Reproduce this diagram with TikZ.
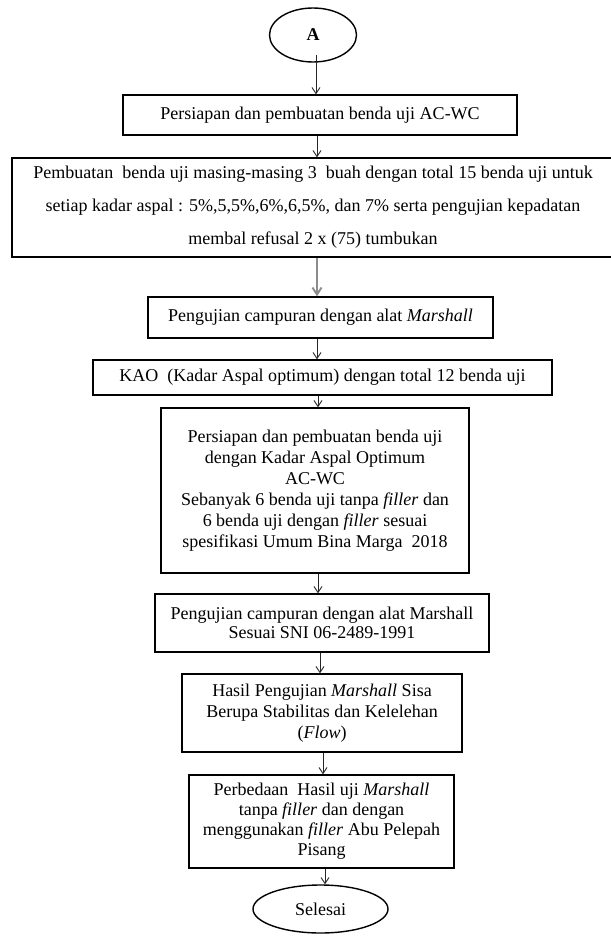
\documentclass[tikz,border=0pt]{standalone}
\usepackage{fontspec}
\setmainfont{Liberation Serif}
\usetikzlibrary{shapes.geometric,arrows.meta}
\begin{document}
\begin{tikzpicture}[x=1pt,y=-1pt,
  every node/.style={font=\fontsize{18}{21}\selectfont},
  procbox/.style={draw=black,line width=1.4pt,rectangle,inner sep=0pt,align=center,anchor=center},
  term/.style={draw=black,line width=1.4pt,ellipse,inner sep=0pt,anchor=center},
  flow/.style={draw=black!85,line width=0.9pt,-{Straight Barb[length=6pt,width=8pt]}},
  flowgray/.style={draw=black!45,line width=1.9pt,-{Straight Barb[length=7pt,width=9pt]}}]
\useasboundingbox (0,0) rectangle (610,936);
\fill[white] (0,0) rectangle (610,936);

\node[term,minimum width=87pt,minimum height=54pt] (a) at (313,35) {\textbf{A}};
\node[procbox,minimum width=394pt,minimum height=40pt] (b1) at (320,115) {Persiapan dan pembuatan benda uji AC-WC};
\node[procbox,minimum width=602pt,minimum height=99pt,font=\fontsize{18}{33}\selectfont] (b2) at (313,207.5)
  {Pembuatan\ \ benda uji masing-masing 3\ \ buah dengan total 15 benda uji untuk\\
   setiap kadar aspal : 5\%,5,5\%,6\%,6,5\%, dan 7\% serta pengujian kepadatan\\
   membal refusal 2 x (75) tumbukan};
\node[procbox,minimum width=345pt,minimum height=41pt] (b3) at (320.5,317.5) {Pengujian campuran dengan alat \textit{Marshall}};
\node[procbox,minimum width=459pt,minimum height=35pt] (b4) at (322.5,377.5) {KAO\ \ (Kadar Aspal optimum) dengan total 12 benda uji};
\node[procbox,minimum width=308pt,minimum height=165pt] (b5) at (315,490.5)
  {Persiapan dan pembuatan benda uji\\dengan Kadar Aspal Optimum\\AC-WC\\
   Sebanyak 6 benda uji tanpa \textit{filler} dan\\6 benda uji dengan \textit{filler} sesuai\\
   spesifikasi Umum Bina Marga\ \ 2018};
\node[procbox,minimum width=334pt,minimum height=58pt,font=\fontsize{18}{19.5}\selectfont] (b6) at (322,623)
  {Pengujian campuran dengan alat Marshall\\Sesuai SNI 06-2489-1991};
\node[procbox,minimum width=280pt,minimum height=78pt] (b7) at (322,713)
  {Hasil Pengujian \textit{Marshall} Sisa\\Berupa Stabilitas dan Kelelehan\\(\textit{Flow})};
\node[procbox,minimum width=265pt,minimum height=93pt,font=\fontsize{18}{20}\selectfont] (b8) at (321.5,821.5)
  {Perbedaan\ \ Hasil uji \textit{Marshall}\\tanpa \textit{filler} dan dengan\\menggunakan \textit{filler} Abu Pelepah\\Pisang};
\node[term,minimum width=135pt,minimum height=48pt] (s) at (320.5,909) {Selesai};

\coordinate (x1) at (316,0);
\coordinate (x2) at (317,0);
\coordinate (x3) at (318,0);
\coordinate (x4) at (320,0);
\coordinate (x5) at (323,0);
\coordinate (x6) at (325,0);
\draw[flow] ([yshift=8pt]a.south -| x1) -- (b1.north -| x1);
\draw[flow] (b1.south -| x2) -- (b2.north -| x2);
\draw[flowgray] (b2.south -| x2) -- (b3.north -| x2);
\draw[flow] (b3.south -| x2) -- (b4.north -| x2);
\draw[flow] (b4.south -| x3) -- (b5.north -| x3);
\draw[flow] (b5.south -| x3) -- (b6.north -| x3);
\draw[flow] (b6.south -| x4) -- (b7.north -| x4);
\draw[flow] (b7.south -| x5) -- (b8.north -| x5);
\draw[flow] (b8.south -| x6) -- (s.north -| x6);
\end{tikzpicture}
\end{document}
